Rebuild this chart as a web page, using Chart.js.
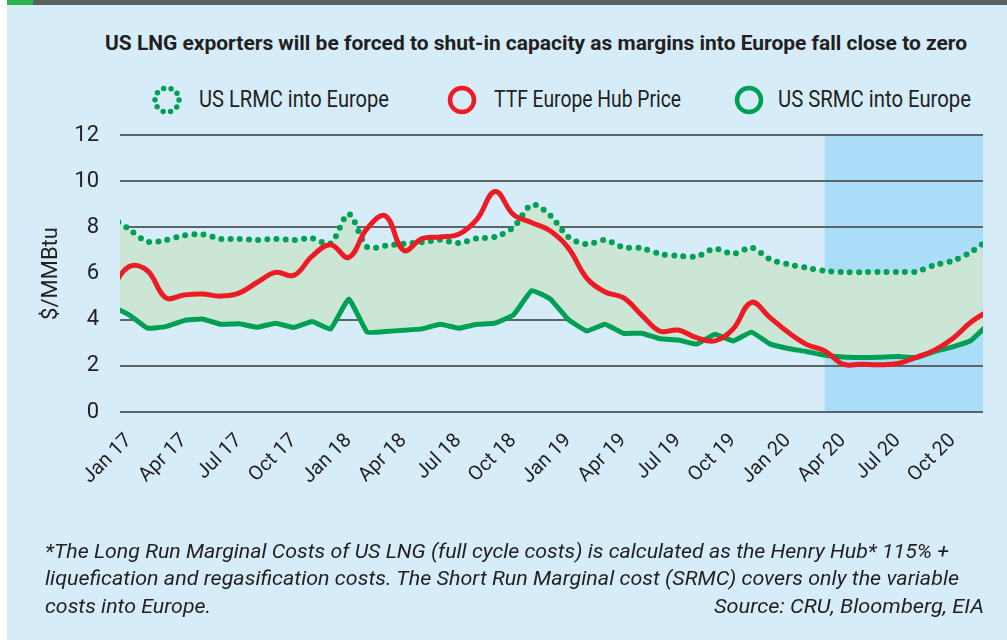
<!DOCTYPE html>
<html><head><meta charset="utf-8">
<script src="https://cdn.jsdelivr.net/npm/chart.js@4.4.0/dist/chart.umd.min.js"></script>
<style>
html,body{margin:0;padding:0;background:#fff;}
#page{position:relative;width:1007px;height:640px;overflow:hidden;background:#fff;font-family:"Liberation Sans Narrow","Roboto","Liberation Sans",sans-serif;color:#231f20;}
#panel{position:absolute;left:7px;top:5px;right:0;bottom:0;background:#d6edf9;}
#bar{position:absolute;left:33px;top:0;right:0;height:5px;background:#595e60;}
#accent{position:absolute;left:7px;top:0;width:26px;height:5px;background:#2db34a;}
canvas{position:absolute;left:0;top:0;}
.t{position:absolute;white-space:nowrap;transform-origin:0 50%;display:inline-block;}
.title{font-weight:bold;font-size:21px;line-height:26px;}
.leg{font-size:23px;line-height:28px;}
.note{font-style:italic;font-size:20px;line-height:24px;}
svg.icon{position:absolute;}
</style></head>
<body><div id="page">
<div id="panel"></div><div id="bar"></div><div id="accent"></div>
<div class="t title" data-x="105" data-cy="43" data-w="862">US LNG exporters will be forced to shut-in capacity as margins into Europe fall close to zero</div>

<svg class="icon" width="34" height="34" style="left:150px;top:83px"><circle cx="17" cy="17" r="12" fill="none" stroke="#00a054" stroke-width="5.5" stroke-linecap="round" stroke-dasharray="0 7.54"/></svg>
<div class="t leg" data-x="199" data-cy="100" data-w="190">US LRMC into Europe</div>
<svg class="icon" width="34" height="34" style="left:445px;top:83px"><circle cx="17" cy="17" r="12" fill="none" stroke="#ed1c24" stroke-width="4.5"/></svg>
<div class="t leg" data-x="494" data-cy="100" data-w="187">TTF Europe Hub Price</div>
<svg class="icon" width="34" height="34" style="left:732px;top:83px"><circle cx="17" cy="17" r="12" fill="none" stroke="#00a054" stroke-width="4.5"/></svg>
<div class="t leg" data-x="778" data-cy="100" data-w="193">US SRMC into Europe</div>

<canvas id="c" width="1007" height="640"></canvas>

<div class="t note" data-x="45" data-cy="551" data-w="904">*The Long Run Marginal Costs of US LNG (full cycle costs) is calculated as the Henry Hub* 115% +</div>
<div class="t note" data-x="45" data-cy="578" data-w="914">liquefication and regasification costs. The Short Run Marginal cost (SRMC) covers only the variable</div>
<div class="t note" data-x="45" data-cy="606" data-w="166">costs into Europe.</div>
<div class="t note" data-x="714" data-cy="606" data-w="270">Source: CRU, Bloomberg, EIA</div>
</div>
<script>
const months = ['Dec 16',
 'Jan 17','Feb 17','Mar 17','Apr 17','May 17','Jun 17','Jul 17','Aug 17','Sep 17','Oct 17','Nov 17','Dec 17',
 'Jan 18','Feb 18','Mar 18','Apr 18','May 18','Jun 18','Jul 18','Aug 18','Sep 18','Oct 18','Nov 18','Dec 18',
 'Jan 19','Feb 19','Mar 19','Apr 19','May 19','Jun 19','Jul 19','Aug 19','Sep 19','Oct 19','Nov 19','Dec 19',
 'Jan 20','Feb 20','Mar 20','Apr 20','May 20','Jun 20','Jul 20','Aug 20','Sep 20','Oct 20','Nov 20','Dec 20'];
const lrmc = [8.45,
 7.92,7.38,7.45,7.65,7.70,7.50,7.50,7.45,7.50,7.45,7.52,7.30,
 8.58,7.15,7.20,7.29,7.35,7.46,7.32,7.52,7.59,8.00,8.98,8.52,
 7.58,7.27,7.45,7.14,7.10,6.85,6.77,6.74,7.07,6.85,7.12,6.62,
 6.40,6.25,6.12,6.06,6.06,6.07,6.07,6.08,6.36,6.55,6.93,7.50];
const ttf = [5.30,
 6.30,6.12,4.95,5.07,5.11,5.02,5.15,5.62,6.05,5.92,6.75,7.25,
 6.70,7.95,8.50,7.00,7.51,7.58,7.70,8.35,9.55,8.55,8.20,7.85,
 7.10,5.80,5.20,4.95,4.20,3.50,3.55,3.22,3.08,3.60,4.75,4.10,
 3.45,2.93,2.65,2.07,2.07,2.05,2.10,2.37,2.68,3.18,3.90,4.40];
const srmc = [4.60,
 4.21,3.63,3.70,3.96,4.03,3.80,3.82,3.67,3.85,3.66,3.92,3.59,
 4.90,3.46,3.49,3.54,3.60,3.80,3.63,3.80,3.85,4.21,5.26,4.90,
 4.00,3.51,3.80,3.41,3.41,3.17,3.12,2.94,3.37,3.08,3.46,2.95,
 2.75,2.62,2.46,2.38,2.36,2.37,2.40,2.36,2.62,2.82,3.10,3.85];
const tickLabels = ['Jan 17','Apr 17','Jul 17','Oct 17','Jan 18','Apr 18','Jul 18','Oct 18',
 'Jan 19','Apr 19','Jul 19','Oct 19','Jan 20','Apr 20','Jul 20','Oct 20'];
const yTicks = [0,2,4,6,8,10,12];
const highlightFrom = 'Mar 20';

const MON = ['Jan','Feb','Mar','Apr','May','Jun','Jul','Aug','Sep','Oct','Nov','Dec'];
function monthPos(label){ const p = label.split(' '); return (2000 + Number(p[1]) - 2017) * 12 + MON.indexOf(p[0]); }
const pts = arr => arr.map((v, i) => ({x: monthPos(months[i]) + 0.5, y: v}));

const GREEN = '#00a054', RED = '#ed1c24', FILL = '#cbe6d5', SHADE = '#a9ddf8', GRID = '#5d6468', TXT = '#231f20';
const FONT = '"Liberation Sans Narrow","Roboto","Liberation Sans",sans-serif';

const shade = {
  id: 'shade',
  beforeDraw(chart){
    const {ctx, chartArea: a, scales: {x}} = chart;
    const x0 = x.getPixelForValue(monthPos(highlightFrom) + 0.5);
    ctx.save(); ctx.fillStyle = SHADE; ctx.fillRect(x0, a.top, a.right - x0, a.bottom - a.top); ctx.restore();
  }
};

new Chart(document.getElementById('c'), {
  type: 'line',
  data: { datasets: [
    { label: 'TTF Europe Hub Price', data: pts(ttf), borderColor: RED, borderWidth: 5, pointRadius: 0,
      tension: 0.4, fill: false, clip: 0, borderJoinStyle: 'round' },
    { label: 'US LRMC into Europe', data: pts(lrmc), borderColor: GREEN, borderWidth: 6, pointRadius: 0,
      borderDash: [0, 9.2], borderCapStyle: 'round', tension: 0.3, clip: 0,
      fill: {target: 2, above: FILL, below: FILL}, backgroundColor: FILL },
    { label: 'US SRMC into Europe', data: pts(srmc), borderColor: GREEN, borderWidth: 5, pointRadius: 0,
      tension: 0.1, fill: false, clip: 0, borderJoinStyle: 'round' }
  ]},
  options: {
    responsive: false, animation: false, events: [],
    layout: { padding: { left: 38, top: 135, right: 24, bottom: 128 } },
    plugins: { legend: { display: false }, tooltip: { enabled: false }, filler: { drawTime: 'beforeDatasetsDraw' } },
    scales: {
      x: { type: 'linear', min: 0, max: 47.15,
        grid: { display: false, drawTicks: false }, border: { display: false },
        afterBuildTicks: s => { s.ticks = tickLabels.map(l => ({ value: monthPos(l) })); },
        afterFit: s => { s.height = 100; },
        ticks: { autoSkip: false, minRotation: 45, maxRotation: 45, padding: 17, labelOffset: 9, color: TXT,
          font: { family: FONT, size: 20 }, callback: (v, i) => tickLabels[i] } },
      y: { min: 0, max: 12,
        afterBuildTicks: s => { s.ticks = yTicks.map(v => ({ value: v })); },
        afterFit: s => { s.width = 82; },
        grid: { color: GRID, lineWidth: 2, drawTicks: false }, border: { display: false },
        ticks: { padding: 21, color: TXT, font: { family: FONT, size: 22 } },
        title: { display: true, text: '$/MMBtu', color: TXT, padding: 0, font: { family: FONT, size: 22 } } }
    }
  },
  plugins: [shade]
});

function fitText(){
  document.querySelectorAll('.t').forEach(el => {
    el.style.transform = 'none';
    const w = el.getBoundingClientRect().width;
    const h = parseFloat(getComputedStyle(el).lineHeight);
    el.style.left = el.dataset.x + 'px';
    el.style.top = (Number(el.dataset.cy) - h / 2) + 'px';
    el.style.transform = 'scaleX(' + (Number(el.dataset.w) / w) + ')';
  });
}
fitText();
if (document.fonts && document.fonts.ready) document.fonts.ready.then(fitText);
</script>
</body></html>
